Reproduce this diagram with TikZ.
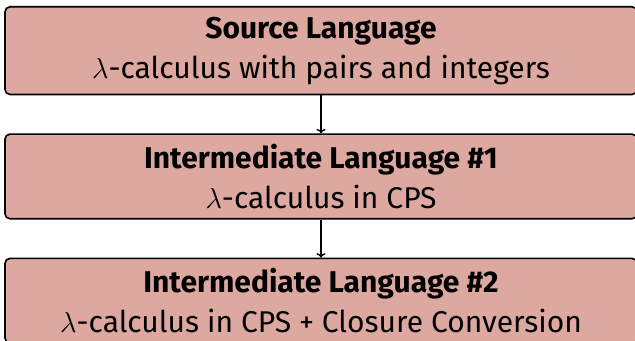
\documentclass[tikz,border=0pt]{standalone}
\usepackage{fontspec}
\setmainfont{Fira Sans}
\usepackage{xcolor}
\definecolor{boxrose}{HTML}{DDA8A0}
\usepackage{tikz}
\usetikzlibrary{arrows.meta,positioning}

\begin{document}
\begin{tikzpicture}[
  x=1pt,y=1pt,
  lang/.style={draw=black,fill=boxrose,line width=0.8pt,rounded corners=2.5pt,align=center,
    minimum width=316pt,inner ysep=5pt,font=\fontsize{15}{20}\selectfont},
  ar/.style={-{To[length=2.2pt,width=4.5pt]},draw=black,line width=0.7pt}
]
\useasboundingbox (0,0) rectangle (317.5,-170.5);
\node[lang,anchor=north] (src) at (160.5,-3) {\textbf{Source Language}\\$\lambda$-calculus with pairs and integers};
\node[lang,below=19pt of src] (im1) {\textbf{Intermediate Language \#1}\\$\lambda$-calculus in CPS};
\node[lang,below=19pt of im1] (im2) {\textbf{Intermediate Language \#2}\\$\lambda$-calculus in CPS + Closure Conversion};
\draw[ar] (src) -- (im1);
\draw[ar] (im1) -- (im2);
\end{tikzpicture}
\end{document}
